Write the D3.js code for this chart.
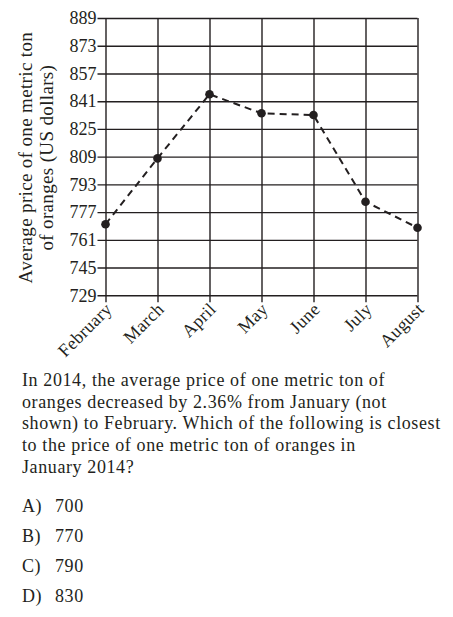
<!DOCTYPE html>
<html>
<head>
<meta charset="utf-8">
<script src="https://cdn.jsdelivr.net/npm/d3@7"></script>
<style>
  body { margin: 0; background: #fff; }
  svg text { font-family: "Liberation Serif", "DejaVu Serif", serif; fill: #231f20; }
</style>
</head>
<body>
<svg id="chart" width="453" height="617"></svg>
<script>
const months = ["February", "March", "April", "May", "June", "July", "August"];
const prices = [770, 808, 845, 834, 833, 783, 768];
const yTicks = [729, 745, 761, 777, 793, 809, 825, 841, 857, 873, 889];
const yTitle = ["Average price of one metric ton", "of oranges (US dollars)"];
const question = [
  "In 2014, the average price of one metric ton of",
  "oranges decreased by 2.36% from January (not",
  "shown) to February. Which of the following is closest",
  "to the price of one metric ton of oranges in",
  "January 2014?"
];
const choiceLetters = ["A)", "B)", "C)", "D)"];
const choiceValues = ["700", "770", "790", "830"];

const ink = "#231f20";
const margin = { top: 18, left: 105.5 },
      width = 312,
      height = 277.3;

const svg = d3.select("#chart");
const g = svg.append("g")
    .attr("transform", `translate(${margin.left},${margin.top})`);

const x = d3.scalePoint()
    .domain(months)
    .range([0, width]);

const y = d3.scaleLinear()
    .domain([d3.min(yTicks), d3.max(yTicks)])
    .range([height, 0]);

// horizontal grid + y ticks
const yAxis = g.append("g")
    .call(d3.axisLeft(y).tickValues(yTicks).tickSize(8).tickPadding(1).tickSizeOuter(0));
yAxis.select(".domain").remove();
yAxis.selectAll(".tick line")
    .attr("x1", -8).attr("x2", width)
    .attr("stroke", ink).attr("stroke-width", 1.4);
yAxis.selectAll(".tick text")
    .attr("font-size", 18)
    .attr("font-family", "Liberation Serif")
    .attr("fill", ink);

// vertical grid + x ticks
const xAxis = g.append("g")
    .attr("transform", `translate(0,${height})`)
    .call(d3.axisBottom(x).tickSize(7).tickSizeOuter(0));
xAxis.select(".domain").remove();
xAxis.selectAll(".tick line")
    .attr("y1", -height).attr("y2", 7)
    .attr("stroke", ink).attr("stroke-width", 1.4);
xAxis.selectAll(".tick text")
    .attr("font-size", 18)
    .attr("font-family", "Liberation Serif")
    .attr("letter-spacing", 0.3)
    .attr("fill", ink)
    .attr("text-anchor", "end")
    .attr("dy", null)
    .attr("y", null)
    .attr("transform", "translate(7,15) rotate(-45)");

// y title
const title = svg.append("text")
    .attr("transform", `translate(0,${margin.top + height / 2 + 1}) rotate(-90)`)
    .attr("text-anchor", "middle")
    .attr("font-size", 19)
    .attr("letter-spacing", 0.35);
yTitle.forEach((t, i) => {
  title.append("tspan").attr("x", 0).attr("y", 32 + i * 21).text(t);
});

// dashed line + points
const data = months.map((m, i) => ({ month: m, price: prices[i] }));
g.append("path")
    .datum(data)
    .attr("fill", "none")
    .attr("stroke", ink)
    .attr("stroke-width", 2)
    .attr("stroke-dasharray", "7,5")
    .attr("d", d3.line().x(d => x(d.month)).y(d => y(d.price)));

g.selectAll("circle")
    .data(data)
    .join("circle")
    .attr("cx", d => x(d.month))
    .attr("cy", d => y(d.price))
    .attr("r", 4.3)
    .attr("fill", ink);

// question text
svg.append("g").selectAll("text")
    .data(question)
    .join("text")
    .attr("x", 22)
    .attr("y", (d, i) => 386 + i * 21.7)
    .attr("font-size", 18)
    .attr("letter-spacing", 0.6)
    .text(d => d);

// answer choices
const choices = svg.append("g").selectAll("g")
    .data(choiceLetters)
    .join("g")
    .attr("transform", (d, i) => `translate(22,${512 + i * 30})`);
choices.append("text").attr("font-size", 18).attr("letter-spacing", 0.6).text(d => d);
choices.append("text").attr("x", 33).attr("font-size", 18).attr("letter-spacing", 0.6).text((d, i) => choiceValues[i]);
</script>
</body>
</html>
